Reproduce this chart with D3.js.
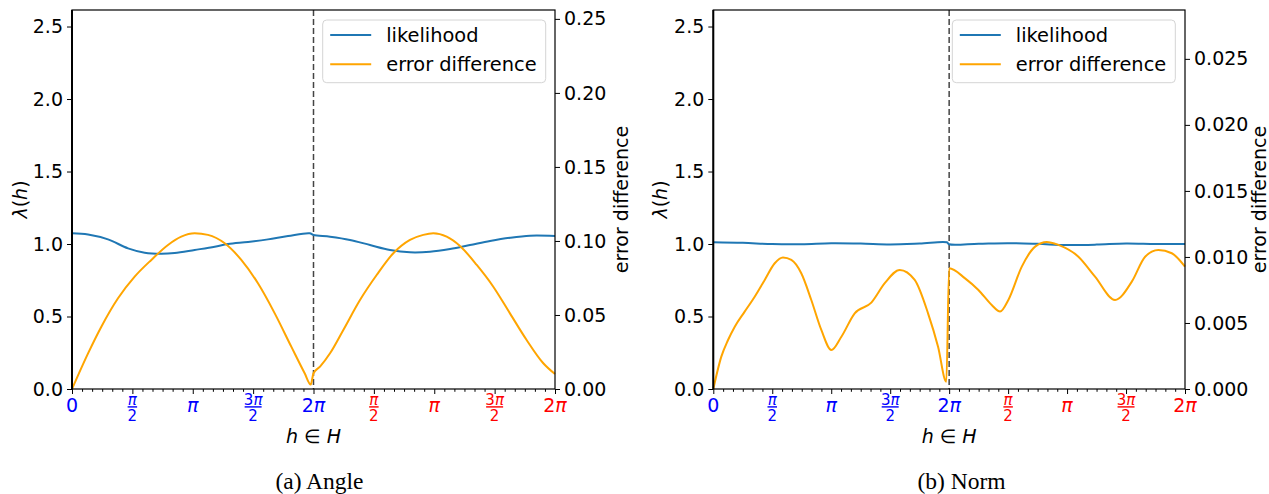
<!DOCTYPE html>
<html><head><meta charset="utf-8">
<script src="https://cdn.jsdelivr.net/npm/d3@7"></script>
<style>body{margin:0;background:#fff}svg{display:block}text{font-family:"DejaVu Sans",sans-serif}</style>
</head><body><svg id="c" width="1269" height="494"></svg>
<script>
// h values are in multiples of π (0..4 = two passes over [0, 2π])
const xTickVals = [0, 0.5, 1, 1.5, 2, 2.5, 3, 3.5, 4];
const xTickLabels = ["0", "π/2", "π", "3π/2", "2π", "π/2", "π", "3π/2", "2π"];
const lambdaTicks = [0, 0.5, 1.0, 1.5, 2.0, 2.5];
const angleErrTicks = [0, 0.05, 0.10, 0.15, 0.20, 0.25];
const normErrTicks = [0, 0.005, 0.010, 0.015, 0.020, 0.025];

// (a) Angle
const angleLikX = [0, 0.133, 0.298, 0.464, 0.602, 0.740, 0.850, 1.016, 1.182, 1.292, 1.458, 1.623, 1.789, 1.969, 2.0,
  2.137, 2.302, 2.468, 2.634, 2.799, 2.965, 3.131, 3.296, 3.462, 3.627, 3.793, 4.0];
const angleLik = [1.074, 1.066, 1.032, 0.970, 0.940, 0.933, 0.938, 0.959, 0.981, 1.000, 1.014, 1.032, 1.055, 1.074, 1.062,
  1.050, 1.028, 0.993, 0.959, 0.943, 0.947, 0.966, 0.993, 1.021, 1.043, 1.057, 1.055];
const angleErrX = [0, 0.133, 0.243, 0.381, 0.519, 0.657, 0.795, 0.905, 1.016, 1.126, 1.265, 1.402, 1.540, 1.679, 1.816, 1.927, 1.977, 2.0,
  2.054, 2.137, 2.247, 2.385, 2.523, 2.661, 2.799, 2.909, 2.992, 3.103, 3.213, 3.352, 3.489, 3.627, 3.765, 3.903, 4.0];
const angleErr = [0.0, 0.0241, 0.0421, 0.0613, 0.0759, 0.0872, 0.0973, 0.1029, 0.1052, 0.1041, 0.0984, 0.0872, 0.0714, 0.0511, 0.0286, 0.0106, 0.0030, 0.0106,
  0.0151, 0.0241, 0.0399, 0.0601, 0.0770, 0.0917, 0.1007, 0.1041, 0.1052, 0.1029, 0.0966, 0.0838, 0.0691, 0.0511, 0.0331, 0.0174, 0.0101];

// (b) Norm
const normLikX = [0, 0.25, 0.5, 0.75, 1.0, 1.25, 1.5, 1.75, 1.98, 2.0, 2.25, 2.5, 2.75, 3.0, 3.25, 3.5, 3.75, 4.0];
const normLik = [1.012, 1.008, 1.000, 0.999, 1.005, 1.003, 0.997, 1.003, 1.012, 0.998, 1.002, 1.006, 1.001, 0.993, 0.996, 1.004, 1.000, 1.000];
const normErrX = [0, 0.068, 0.125, 0.182, 0.266, 0.351, 0.436, 0.521, 0.591, 0.662, 0.746, 0.831, 0.916, 1.001, 1.086, 1.199, 1.340, 1.454, 1.581, 1.708, 1.821, 1.906, 1.976, 2.0,
  2.135, 2.248, 2.361, 2.432, 2.502, 2.616, 2.729, 2.828, 2.926, 3.096, 3.237, 3.407, 3.549, 3.662, 3.774, 3.888, 4.0];
const normErr = [0.0, 0.00245, 0.00371, 0.00472, 0.00586, 0.00699, 0.00826, 0.00952, 0.00995, 0.00977, 0.00876, 0.00674, 0.00447, 0.00295, 0.00396, 0.00573, 0.00654, 0.00801, 0.00902, 0.00826, 0.00573, 0.00320, 0.00055, 0.00914,
  0.00838, 0.00750, 0.00636, 0.00586, 0.00674, 0.00927, 0.01078, 0.01114, 0.01091, 0.01002, 0.00851, 0.00674, 0.00813, 0.01002, 0.01053, 0.01028, 0.00927];

const svg = d3.select("#c");
const BLUE = "#1f77b4", ORANGE = "#ffa500";
const FS = 19;

function panel(cfg) {
  const {left, right, top, bottom} = cfg;
  const x = d3.scaleLinear().domain([0, 4]).range([left, right]);
  const yL = d3.scaleLinear().domain([0, 2.614]).range([bottom, top]);
  const yR = d3.scaleLinear().domain([0, cfg.errMax]).range([bottom, top]);
  const g = svg.append("g");

  // dashed separator at 2π
  g.append("line").attr("x1", x(2)).attr("x2", x(2)).attr("y1", top).attr("y2", bottom)
    .attr("stroke", "#444").attr("stroke-width", 1.5).attr("stroke-dasharray", "6,3");

  const lik = cfg.likX.map((h, i) => [h, cfg.lik[i]]);
  const err = cfg.errX.map((h, i) => [h, cfg.err[i]]);
  g.append("path").datum(lik).attr("fill", "none").attr("stroke", BLUE).attr("stroke-width", 2)
    .attr("d", d3.line().x(d => x(d[0])).y(d => yL(d[1])).curve(d3.curveCatmullRom.alpha(0.5)));
  g.append("path").datum(err).attr("fill", "none").attr("stroke", ORANGE).attr("stroke-width", 2)
    .attr("d", d3.line().x(d => x(d[0])).y(d => yR(d[1])).curve(d3.curveMonotoneX));

  // frame
  g.append("rect").attr("x", left).attr("y", top).attr("width", right - left).attr("height", bottom - top)
    .attr("fill", "none").attr("stroke", "#000").attr("stroke-width", 1.2);
  g.append("line").attr("x1", left).attr("x2", left).attr("y1", top).attr("y2", bottom).attr("stroke", "#000").attr("stroke-width", 2);

  // left y axis
  const ax = g.append("g").attr("transform", `translate(${left},0)`)
    .call(d3.axisLeft(yL).tickValues(lambdaTicks).tickFormat(d3.format(".1f")).tickSize(5).tickPadding(4));
  ax.select(".domain").remove();
  ax.selectAll("text").attr("font-size", FS).attr("font-family", "DejaVu Sans").attr("fill", "#000");
  // right y axis
  const ar = g.append("g").attr("transform", `translate(${right},0)`)
    .call(d3.axisRight(yR).tickValues(cfg.errTicks).tickFormat(d3.format(cfg.fmt)).tickSize(5).tickPadding(4));
  ar.select(".domain").remove();
  ar.selectAll("text").attr("font-size", FS).attr("font-family", "DejaVu Sans").attr("fill", "#000");

  // x ticks: major + minor (π/12)
  const minor = d3.range(0, 49).filter(k => k % 6 !== 0).map(k => k / 12);
  const ab = g.append("g").attr("transform", `translate(0,${bottom})`)
    .call(d3.axisBottom(x).tickValues(minor).tickSize(2.8).tickFormat(""));
  ab.select(".domain").remove();
  const abM = g.append("g").attr("transform", `translate(0,${bottom})`)
    .call(d3.axisBottom(x).tickValues(xTickVals).tickSize(5).tickFormat(""));
  abM.select(".domain").remove();

  // x tick labels (math-style)
  xTickVals.forEach((v, i) => {
    const lab = xTickLabels[i];
    const col = v <= 2 ? "#0000ff" : "#ff0000";
    const cx = x(v);
    if (lab.includes("/")) {
      const [num, den] = lab.split("/");
      const t = g.append("text").attr("x", cx).attr("y", 404.5).attr("text-anchor", "middle")
        .attr("font-size", 15).attr("fill", col);
      if (num.length > 1) t.append("tspan").text(num.slice(0, -1));
      t.append("tspan").attr("font-style", "italic").text("π");
      const w = num.length > 1 ? 17 : 9.5;
      g.append("rect").attr("x", cx - w / 2).attr("y", 406.2).attr("width", w).attr("height", 1.4).attr("fill", col);
      g.append("text").attr("x", cx).attr("y", 421).attr("text-anchor", "middle")
        .attr("font-size", 15).attr("fill", col).text(den);
    } else {
      const t = g.append("text").attr("x", cx).attr("y", 411.5).attr("text-anchor", "middle")
        .attr("font-size", FS).attr("fill", col);
      if (lab === "0") t.text("0");
      else {
        if (lab.length > 1) t.append("tspan").text(lab.slice(0, -1));
        t.append("tspan").attr("font-style", "italic").text("π");
      }
    }
  });

  // axis labels
  const xl = g.append("text").attr("x", (left + right) / 2).attr("y", 443).attr("text-anchor", "middle").attr("font-size", FS);
  xl.append("tspan").attr("font-style", "italic").text("h");
  xl.append("tspan").text(" ∈ ");
  xl.append("tspan").attr("font-style", "italic").text("H");

  const yl = g.append("text").attr("transform", `translate(${cfg.ylabX},${(top + bottom) / 2}) rotate(-90)`)
    .attr("text-anchor", "middle").attr("dy", "0.35em").attr("font-size", FS);
  yl.append("tspan").attr("font-style", "italic").text("λ");
  yl.append("tspan").text("(");
  yl.append("tspan").attr("font-style", "italic").text("h");
  yl.append("tspan").text(")");

  g.append("text").attr("transform", `translate(${cfg.yrlabX},${(top + bottom) / 2}) rotate(-90)`)
    .attr("text-anchor", "middle").attr("dy", "0.35em").attr("font-size", FS).text("error difference");

  // legend
  const lg = g.append("g").attr("transform", `translate(${cfg.legX},20)`);
  lg.append("rect").attr("width", 223).attr("height", 62.7).attr("rx", 4)
    .attr("fill", "#fff").attr("fill-opacity", 0.8).attr("stroke", "#d4d4d4").attr("stroke-width", 1);
  [["likelihood", BLUE, 15], ["error difference", ORANGE, 44.3]].forEach(([t, c, yy]) => {
    lg.append("line").attr("x1", 7.5).attr("x2", 48.5).attr("y1", yy).attr("y2", yy).attr("stroke", c).attr("stroke-width", 2);
    lg.append("text").attr("x", 63.5).attr("y", yy).attr("dy", "0.35em").attr("font-size", FS + 0.4).text(t);
  });

  // caption
  svg.append("text").attr("x", cfg.capX).attr("y", 489).attr("text-anchor", "middle")
    .attr("style", "font-family:'Liberation Serif',serif")
    .attr("font-size", 23.5).text(cfg.caption);
}

panel({left: 72, right: 555, top: 10, bottom: 389, errMax: 0.256, errTicks: angleErrTicks, fmt: ".2f",
  likX: angleLikX, lik: angleLik, errX: angleErrX, err: angleErr,
  ylabX: 20, yrlabX: 621, legX: 322.7, capX: 319.5, caption: "(a) Angle"});
panel({left: 713.3, right: 1185, top: 10, bottom: 389, errMax: 0.0287, errTicks: normErrTicks, fmt: ".3f",
  likX: normLikX, lik: normLik, errX: normErrX, err: normErr,
  ylabX: 660, yrlabX: 1259.5, legX: 952.3, capX: 961.5, caption: "(b) Norm"});
</script></body></html>
